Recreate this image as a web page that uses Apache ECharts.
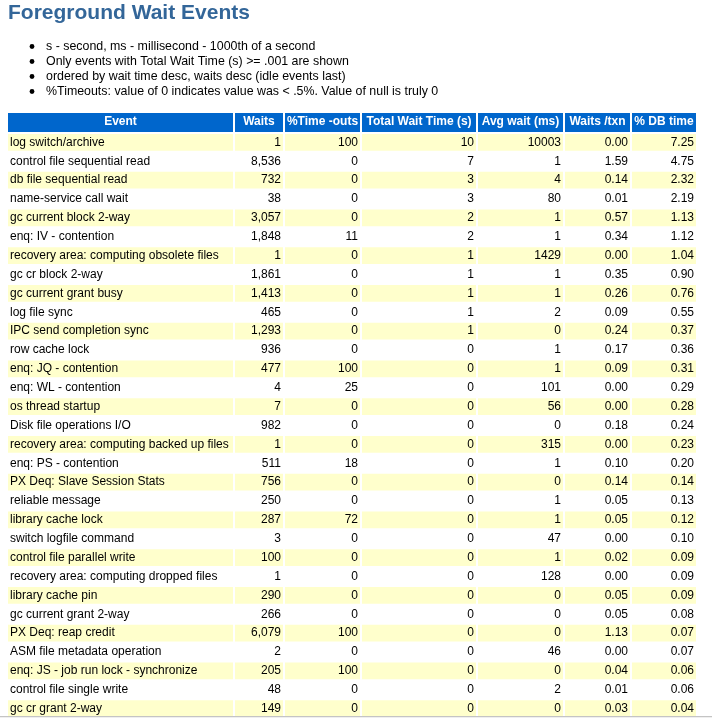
<!DOCTYPE html>
<html><head><meta charset="utf-8">
<script src="https://cdn.jsdelivr.net/npm/echarts@6/dist/echarts.min.js"></script>
<style>html,body{margin:0;padding:0;background:#fff}#c{width:712px;height:718px}</style>
</head><body><div id="c"></div>
<script>
// ---------- data ----------
const title = 'Foreground Wait Events';
const notes = [
  's - second, ms - millisecond - 1000th of a second',
  'Only events with Total Wait Time (s) >= .001 are shown',
  'ordered by wait time desc, waits desc (idle events last)',
  '%Timeouts: value of 0 indicates value was < .5%. Value of null is truly 0'
];
const headers = ['Event', 'Waits', '%Time -outs', 'Total Wait Time (s)', 'Avg wait (ms)', 'Waits /txn', '% DB time'];
const events = [
  'log switch/archive', 'control file sequential read', 'db file sequential read', 'name-service call wait',
  'gc current block 2-way', 'enq: IV - contention', 'recovery area: computing obsolete files', 'gc cr block 2-way',
  'gc current grant busy', 'log file sync', 'IPC send completion sync', 'row cache lock',
  'enq: JQ - contention', 'enq: WL - contention', 'os thread startup', 'Disk file operations I/O',
  'recovery area: computing backed up files', 'enq: PS - contention', 'PX Deq: Slave Session Stats', 'reliable message',
  'library cache lock', 'switch logfile command', 'control file parallel write', 'recovery area: computing dropped files',
  'library cache pin', 'gc current grant 2-way', 'PX Deq: reap credit', 'ASM file metadata operation',
  'enq: JS - job run lock - synchronize', 'control file single write', 'gc cr grant 2-way'
];
const waits = [1, 8536, 732, 38, 3057, 1848, 1, 1861, 1413, 465, 1293, 936, 477, 4, 7, 982, 1, 511, 756, 250, 287, 3, 100, 1, 290, 266, 6079, 2, 205, 48, 149];
const timeouts = [100, 0, 0, 0, 0, 11, 0, 0, 0, 0, 0, 0, 100, 25, 0, 0, 0, 18, 0, 0, 72, 0, 0, 0, 0, 0, 100, 0, 100, 0, 0];
const totalWait = [10, 7, 3, 3, 2, 2, 1, 1, 1, 1, 1, 0, 0, 0, 0, 0, 0, 0, 0, 0, 0, 0, 0, 0, 0, 0, 0, 0, 0, 0, 0];
const avgWait = [10003, 1, 4, 80, 1, 1, 1429, 1, 1, 2, 0, 1, 1, 101, 56, 0, 315, 1, 0, 1, 1, 47, 1, 128, 0, 0, 0, 46, 0, 2, 0];
const waitsPerTxn = [0.00, 1.59, 0.14, 0.01, 0.57, 0.34, 0.00, 0.35, 0.26, 0.09, 0.24, 0.17, 0.09, 0.00, 0.00, 0.18, 0.00, 0.10, 0.14, 0.05, 0.05, 0.00, 0.02, 0.00, 0.05, 0.05, 1.13, 0.00, 0.04, 0.01, 0.03];
const dbTime = [7.25, 4.75, 2.32, 2.19, 1.13, 1.12, 1.04, 0.90, 0.76, 0.55, 0.37, 0.36, 0.31, 0.29, 0.28, 0.24, 0.23, 0.20, 0.14, 0.13, 0.12, 0.10, 0.09, 0.09, 0.09, 0.08, 0.07, 0.07, 0.06, 0.06, 0.04];

// ---------- layout (not data) ----------
const colWidths = [227, 50, 77, 116, 87, 67, 66];
const colEdges = [0];
colWidths.forEach(w => colEdges.push(colEdges[colEdges.length - 1] + w));
const FONT = '"Liberation Sans", Arial, sans-serif';
const fmtInt = v => v.toLocaleString('en-US');
const fmt2 = v => v.toFixed(2);

function cellTexts(i) {
  return [events[i], fmtInt(waits[i]), String(timeouts[i]), String(totalWait[i]), String(avgWait[i]), fmt2(waitsPerTxn[i]), fmt2(dbTime[i])];
}

const chart = echarts.init(document.getElementById('c'), null, { renderer: 'canvas' });

const graphics = [
  { type: 'text', left: 8, top: 3, z: 10, style: { text: title, font: 'bold 21px ' + FONT, fill: '#336699' } }
];
notes.forEach((t, k) => {
  const yc = 46.5 + k * 15;
  graphics.push({ type: 'circle', shape: { cx: 32, cy: yc, r: 2.4 }, style: { fill: '#000' }, z: 10 });
  graphics.push({ type: 'text', x: 46, y: yc, z: 10, style: { text: t, font: '12.4px ' + FONT, fill: '#000', verticalAlign: 'middle' } });
});
graphics.push({ type: 'rect', shape: { x: 0, y: 716, width: 712, height: 1 }, style: { fill: '#c4c4c4' }, z: 100 });
graphics.push({ type: 'rect', shape: { x: 0, y: 717, width: 712, height: 1 }, style: { fill: '#efefef' }, z: 100 });

const option = {
  animation: false,
  backgroundColor: '#fff',
  grid: { left: 8, top: 133, width: colEdges[colEdges.length - 1], height: events.length * 19 },
  xAxis: { type: 'value', min: 0, max: colEdges[colEdges.length - 1], show: false },
  yAxis: { type: 'category', data: events, inverse: true, show: false },
  graphic: graphics,
  series: [
    {
      type: 'custom',
      clip: false,
      data: events.map((e, i) => [0, i]),
      encode: { x: 0, y: 1 },
      renderItem: function (params, api) {
        const row = api.value(1);
        const yc = api.coord([0, row])[1];
        const bh = api.size([0, 1])[1];
        const top = yc - bh / 2;
        const texts = cellTexts(row);
        const children = [];
        for (let c = 0; c < headers.length; c++) {
          const x0 = api.coord([colEdges[c], row])[0];
          const x1 = api.coord([colEdges[c + 1], row])[0] - 2;
          if (row % 2 === 0) {
            children.push({ type: 'rect', shape: { x: x0, y: top + 1, width: x1 - x0, height: bh - 2 }, style: { fill: '#FFFFCC' } });
          }
          children.push({
            type: 'text',
            style: {
              text: texts[c], x: c === 0 ? x0 + 2 : x1 - 2, y: yc,
              align: c === 0 ? 'left' : 'right', verticalAlign: 'middle',
              font: '12px ' + FONT, fill: '#000'
            }
          });
        }
        return { type: 'group', children: children };
      }
    },
    {
      type: 'custom',
      clip: false,
      data: [[0, 0]],
      encode: { x: 0, y: 1 },
      renderItem: function (params, api) {
        const yc0 = api.coord([0, 0])[1];
        const bh = api.size([0, 1])[1];
        const bandTop = yc0 - bh / 2;
        const hTop = bandTop - 20, hBot = bandTop - 1;
        const children = [];
        for (let c = 0; c < headers.length; c++) {
          const x0 = api.coord([colEdges[c], 0])[0];
          const x1 = api.coord([colEdges[c + 1], 0])[0] - 2;
          children.push({ type: 'rect', shape: { x: x0, y: hTop, width: x1 - x0, height: hBot - hTop }, style: { fill: '#0066CC' } });
          children.push({
            type: 'text',
            style: {
              text: headers[c], x: (x0 + x1) / 2, y: (hTop + hBot) / 2 - 0.5,
              align: 'center', verticalAlign: 'middle',
              font: 'bold 12px ' + FONT, fill: '#fff'
            }
          });
        }
        return { type: 'group', children: children };
      }
    }
  ]
};
chart.setOption(option);
</script>
</body></html>
